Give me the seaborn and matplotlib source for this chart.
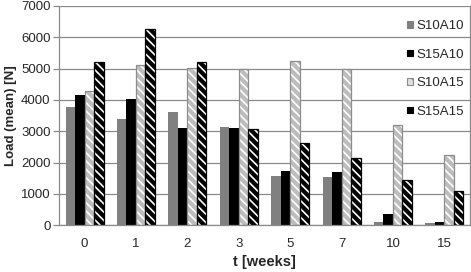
import seaborn as sns
import pandas as pd
import matplotlib.pyplot as plt
from matplotlib.patches import Rectangle

# values
weeks = ["0", "1", "2", "3", "5", "7", "10", "15"]
s10a10 = [3780, 3400, 3600, 3150, 1580, 1540, 100, 80]
s15a10 = [4170, 4020, 3100, 3100, 1740, 1690, 360, 100]
s10a15 = [4300, 5100, 5030, 5000, 5250, 4980, 3200, 2230]
s15a15 = [5200, 6280, 5200, 3080, 2620, 2150, 1450, 1090]
series_names = ["S10A10", "S15A10", "S10A15", "S15A15"]

rows = []
for name, vals in zip(series_names, [s10a10, s15a10, s10a15, s15a15]):
    for w, v in zip(weeks, vals):
        rows.append({"t": w, "load": v, "series": name})
df = pd.DataFrame(rows)

# face, hatch, edge
styles = {
    "S10A10": ("#808080", None, "#808080"),
    "S15A10": ("#000000", None, "#000000"),
    "S10A15": ("#bdbdbd", "white", "#8c8c8c"),
    "S15A15": ("#000000", "white", "#000000"),
}

sns.set_style("white")
plt.rcParams['font.family'] = ['Liberation Sans', 'DejaVu Sans']
plt.rcParams['hatch.linewidth'] = 1.2

fig = plt.figure(figsize=(4.71, 2.72), dpi=100)
ax = fig.add_axes([0.125, 0.172, 0.873, 0.806])

sns.barplot(ax=ax, data=df, x="t", y="load", hue="series", order=weeks,
            hue_order=series_names, width=0.74, saturation=1,
            palette={k: v[0] for k, v in styles.items()}, legend=False)

for cont, name in zip(ax.containers, series_names):
    face, hatch, edge = styles[name]
    for p in cont.patches:
        p.set_facecolor(face)
        if hatch:
            p.set_hatch("\\\\\\\\")
            p.set_edgecolor(hatch)
            p.set_linewidth(0)
            ax.add_patch(Rectangle(p.get_xy(), p.get_width(), p.get_height(),
                                   fill=False, edgecolor=edge, linewidth=0.9, zorder=p.get_zorder() + 0.1))
        else:
            p.set_edgecolor("none")
            p.set_linewidth(0)

ax.set_ylim(0, 7000)
ax.set_xlim(-0.5, len(weeks) - 0.5)
ax.set_yticks(range(0, 7001, 1000))
ax.yaxis.grid(True, color="#8a8a8a", linewidth=0.9)
ax.set_axisbelow(True)

for s in ["left", "bottom", "right"]:
    ax.spines[s].set_color("#8a8a8a")
    ax.spines[s].set_linewidth(0.9)
ax.spines["top"].set_visible(False)

ax.set_xticks([i - 0.5 for i in range(len(weeks) + 1)], minor=True)
ax.tick_params(axis="x", which="major", length=0, pad=9, labelsize=9.5)
ax.tick_params(axis="x", which="minor", length=4, color="#8a8a8a", width=0.9, direction="out")
ax.tick_params(axis="y", length=4, color="#8a8a8a", width=0.9, labelsize=9.5, left=True,
               direction="out", pad=2)

ax.set_xlabel("t [weeks]", fontweight="bold", fontsize=10.5, labelpad=4)
ax.set_ylabel("Load (mean) [N]", fontweight="bold", fontsize=9.5, labelpad=3)

# small square legend keys
legend_keys = {
    "S10A10": ("#808080", "#808080", None),
    "S15A10": ("#000000", "#000000", None),
    "S10A15": ("#e0e0e0", "#8c8c8c", "\\\\\\"),
    "S15A15": ("#000000", "#000000", None),
}
handles = []
for name in series_names:
    face, edge, hatch = legend_keys[name]
    handles.append(Rectangle((0, 0), 1, 1, facecolor=face, edgecolor=edge,
                             hatch=hatch, linewidth=0.8))
ax.legend(handles, series_names, loc="upper right", bbox_to_anchor=(1.0, 0.965),
          frameon=False, fontsize=9.5, labelspacing=1.25, handlelength=0.4,
          handleheight=0.4, handletextpad=0.25, borderaxespad=0.1)

fig.savefig("out.png", dpi=100)
